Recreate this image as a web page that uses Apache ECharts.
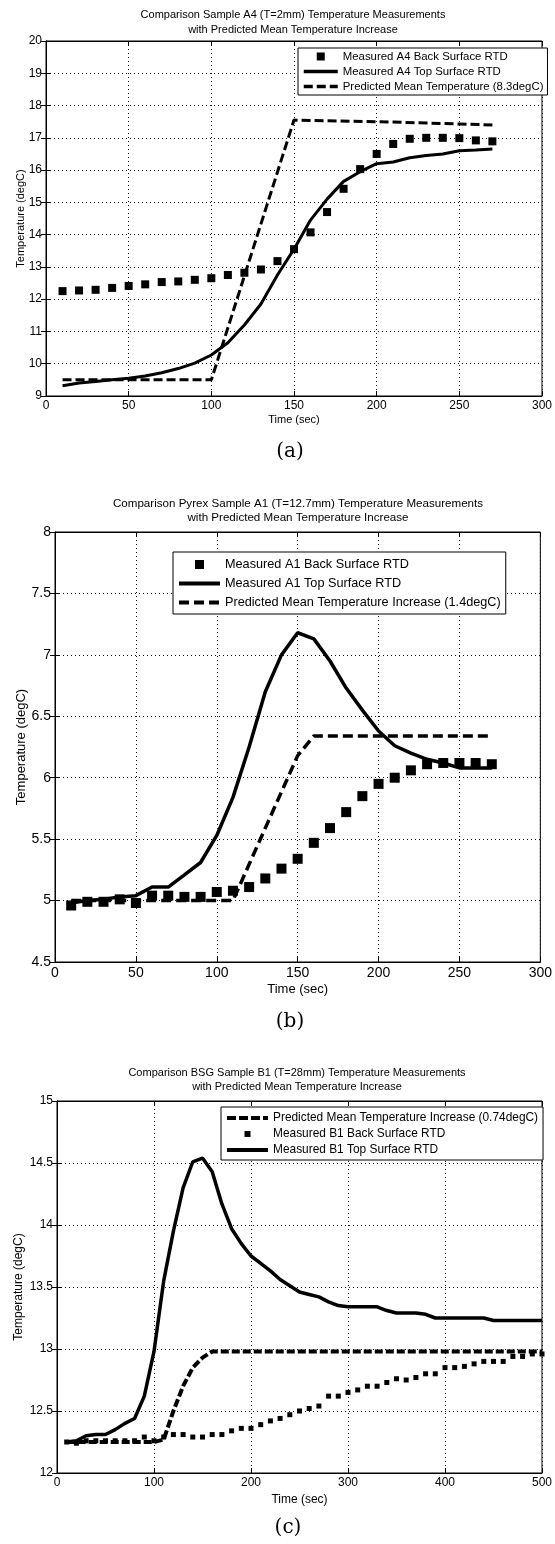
<!DOCTYPE html>
<html>
<head>
<meta charset="utf-8">
<script src="https://cdn.jsdelivr.net/npm/echarts@6/dist/echarts.min.js"></script>
<style>
html, body { margin: 0; padding: 0; background: #fff; }
#main { width: 555px; height: 1544px; }
</style>
</head>
<body>
<div id="main"></div>
<script>
// (a) Sample A4, T=2mm
var aTime = [10, 20, 30, 40, 50, 60, 70, 80, 90, 100, 110, 120, 130, 140, 150, 160, 170, 180, 190, 200, 210, 220, 230, 240, 250, 260, 270];
var aBack = [12.25, 12.27, 12.29, 12.35, 12.41, 12.46, 12.53, 12.55, 12.6, 12.65, 12.75, 12.82, 12.92, 13.18, 13.55, 14.07, 14.7, 15.42, 16.03, 16.5, 16.81, 16.97, 17.0, 17.0, 16.99, 16.92, 16.89];
var aTop = [9.32, 9.4, 9.45, 9.5, 9.55, 9.62, 9.72, 9.85, 10.02, 10.27, 10.65, 11.2, 11.85, 12.75, 13.55, 14.45, 15.1, 15.65, 15.95, 16.2, 16.25, 16.38, 16.45, 16.5, 16.6, 16.62, 16.65];
var aPredTime = [10, 100, 150, 200, 250, 270];
var aPred = [9.5, 9.5, 17.55, 17.5, 17.43, 17.4];

// (b) Pyrex Sample A1, T=12.7mm
var bTime = [10, 20, 30, 40, 50, 60, 70, 80, 90, 100, 110, 120, 130, 140, 150, 160, 170, 180, 190, 200, 210, 220, 230, 240, 250, 260, 270];
var bBack = [4.96, 4.99, 4.99, 5.01, 4.98, 5.04, 5.04, 5.03, 5.03, 5.07, 5.08, 5.11, 5.18, 5.26, 5.34, 5.47, 5.59, 5.72, 5.85, 5.95, 6.0, 6.06, 6.11, 6.12, 6.12, 6.12, 6.11];
var bTop = [4.98, 5.0, 5.01, 5.03, 5.04, 5.11, 5.11, 5.21, 5.31, 5.53, 5.84, 6.25, 6.7, 7.0, 7.18, 7.13, 6.95, 6.73, 6.55, 6.38, 6.26, 6.2, 6.15, 6.12, 6.08, 6.08, 6.08];
var bPredTime = [10, 110, 150, 160, 270];
var bPred = [5.0, 5.0, 6.18, 6.34, 6.34];

// (c) BSG Sample B1, T=28mm
var cTime = [10, 20, 30, 40, 50, 60, 70, 80, 90, 100, 110, 120, 130, 140, 150, 160, 170, 180, 190, 200,
    210, 220, 230, 240, 250, 260, 270, 280, 290, 300, 310, 320, 330, 340, 350, 360, 370, 380, 390, 400,
    410, 420, 430, 440, 450, 460, 470, 480, 490, 500];
var cTop = [12.25, 12.26, 12.3, 12.31, 12.31, 12.35, 12.4, 12.44, 12.62, 12.98, 13.55, 13.95, 14.3, 14.51, 14.54, 14.43, 14.17, 13.97, 13.85, 13.75,
    13.69, 13.63, 13.56, 13.51, 13.46, 13.44, 13.42, 13.38, 13.35, 13.34, 13.34, 13.34, 13.34, 13.31, 13.29, 13.29, 13.29, 13.28, 13.25, 13.25,
    13.25, 13.25, 13.25, 13.25, 13.23, 13.23, 13.23, 13.23, 13.23, 13.23];
var cBack = [12.25, 12.24, 12.26, 12.26, 12.26, 12.26, 12.26, 12.26, 12.29, 12.26, 12.29, 12.31, 12.31, 12.29, 12.29, 12.31, 12.31, 12.34, 12.36, 12.36,
    12.39, 12.42, 12.44, 12.47, 12.5, 12.52, 12.54, 12.62, 12.62, 12.65, 12.67, 12.7, 12.7, 12.73, 12.76, 12.75, 12.77, 12.8, 12.8, 12.85,
    12.85, 12.86, 12.88, 12.9, 12.9, 12.9, 12.94, 12.94, 12.96, 12.96];
var cPredTime = [10, 100, 110, 120, 130, 140, 150, 160, 500];
var cPred = [12.25, 12.25, 12.27, 12.5, 12.7, 12.85, 12.93, 12.98, 12.98];

var FONT = '"Liberation Sans", Arial, sans-serif';
var SQUARE = 'path://M0,0L1,0L1,1L0,1Z';

function pairs(xs, ys) {
    var out = [];
    for (var i = 0; i < xs.length; i++) {
        out.push([xs[i], ys[i]]);
    }
    return out;
}

// one panel = grid + 4 axes (bottom/left with labels, top/right only for ticks)
var panels = [
    { grid: { left: 46, right: 8, top: 41, height: 355 },
      x: [0, 300, 50], y: [9, 20, 1], font: 12, nameFont: 11, xGap: 18, yGap: 20 },
    { grid: { left: 55, right: 10, top: 532, height: 430 },
      x: [0, 300, 50], y: [4.5, 8, 0.5], font: 14, nameFont: 13, xGap: 21, yGap: 27 },
    { grid: { left: 57, right: 11, top: 1101, height: 372 },
      x: [0, 500, 100], y: [12, 15, 0.5], font: 12, nameFont: 12, xGap: 21, yGap: 32 }
];

var grids = [], xAxes = [], yAxes = [];
for (var i = 0; i < panels.length; i++) {
    var p = panels[i];
    var g = p.grid;
    g.show = true;
    g.borderColor = '#000';
    g.borderWidth = 1;
    grids.push(g);
    var dotted = { show: true, lineStyle: { color: '#111', width: 1, type: [1, 3] } };
    var tick = { show: true, inside: true, length: 5, lineStyle: { color: '#000' } };
    var line = { show: true, lineStyle: { color: '#000', width: 1 } };
    xAxes.push({
        gridIndex: i, type: 'value', position: 'bottom', min: p.x[0], max: p.x[1], interval: p.x[2],
        axisLine: line, axisTick: tick, splitLine: dotted,
        axisLabel: { color: '#000', fontFamily: FONT, fontSize: p.font, margin: 4 },
        name: 'Time (sec)', nameLocation: 'middle', nameGap: p.xGap, nameMoveOverlap: false,
        nameTextStyle: { color: '#000', fontFamily: FONT, fontSize: p.nameFont }
    });
    xAxes.push({
        gridIndex: i, type: 'value', position: 'top', min: p.x[0], max: p.x[1], interval: p.x[2],
        axisLine: line, axisTick: tick, splitLine: { show: false }, axisLabel: { show: false }
    });
    yAxes.push({
        gridIndex: i, type: 'value', position: 'left', min: p.y[0], max: p.y[1], interval: p.y[2],
        axisLine: line, axisTick: tick, splitLine: dotted,
        axisLabel: { color: '#000', fontFamily: FONT, fontSize: p.font, margin: 4 },
        name: 'Temperature (degC)', nameLocation: 'middle', nameGap: p.yGap, nameRotate: 90, nameMoveOverlap: false,
        nameTextStyle: { color: '#000', fontFamily: FONT, fontSize: p.nameFont }
    });
    yAxes.push({
        gridIndex: i, type: 'value', position: 'right', min: p.y[0], max: p.y[1], interval: p.y[2],
        axisLine: line, axisTick: tick, splitLine: { show: false }, axisLabel: { show: false }
    });
}

function squares(name, idx, data, size) {
    return { name: name, type: 'scatter', xAxisIndex: idx * 2, yAxisIndex: idx * 2,
        symbol: 'rect', symbolSize: size, itemStyle: { color: '#000', opacity: 1 }, data: data, z: 3 };
}
function curve(name, idx, data, width, dash) {
    return { name: name, type: 'line', xAxisIndex: idx * 2, yAxisIndex: idx * 2,
        symbol: 'circle', showSymbol: false, itemStyle: { color: '#000' },
        lineStyle: { color: '#000', width: width, type: dash || 'solid' }, data: data, z: 2 };
}

var series = [
    squares('Measured A4 Back Surface RTD', 0, pairs(aTime, aBack), 8),
    curve('Measured A4 Top Surface RTD', 0, pairs(aTime, aTop), 3),
    curve('Predicted Mean Temperature (8.3degC)', 0, pairs(aPredTime, aPred), 3, [9, 4]),
    squares('Measured A1 Back Surface RTD', 1, pairs(bTime, bBack), 10),
    curve('Measured A1 Top Surface RTD', 1, pairs(bTime, bTop), 3.5),
    curve('Predicted Mean Temperature Increase (1.4degC)', 1, pairs(bPredTime, bPred), 3.5, [10, 5]),
    curve('Predicted Mean Temperature Increase (0.74degC)', 2, pairs(cPredTime, cPred), 4, [8, 3]),
    squares('Measured B1 Back Surface RTD', 2, pairs(cTime, cBack), 5),
    curve('Measured B1 Top Surface RTD', 2, pairs(cTime, cTop), 3.5)
];

// legend entries: squares get a square icon, lines hide the middle marker
function sq(name) {
    return { name: name, icon: SQUARE, itemStyle: { color: '#000', opacity: 1 } };
}
function ln(name, width, dash) {
    return { name: name, itemStyle: { opacity: 0 },
        lineStyle: { color: '#000', width: width, type: dash || 'solid' } };
}

function legendBox(left, top, items, fontSize, itemWidth, itemHeight, gap, pad) {
    return {
        left: left, top: top, orient: 'vertical', data: items, selectedMode: false,
        backgroundColor: '#fff', borderColor: '#000', borderWidth: 1, padding: pad,
        itemGap: gap, itemWidth: itemWidth, itemHeight: itemHeight, z: 10,
        textStyle: { color: '#000', fontFamily: FONT, fontSize: fontSize }
    };
}

var legends = [
    legendBox(298, 48, [sq('Measured A4 Back Surface RTD'), ln('Measured A4 Top Surface RTD', 3.5),
        ln('Predicted Mean Temperature (8.3degC)', 3.5, [9, 4])],
        11.4, 34, 8, 4, [3, 4, 3, 4]),
    legendBox(173, 552, [sq('Measured A1 Back Surface RTD'), ln('Measured A1 Top Surface RTD', 4),
        ln('Predicted Mean Temperature Increase (1.4degC)', 4, [10, 5])],
        12.7, 41, 9, 6, [6, 5, 5, 4]),
    legendBox(221, 1107, [ln('Predicted Mean Temperature Increase (0.74degC)', 4, [9, 3]), sq('Measured B1 Back Surface RTD'),
        ln('Measured B1 Top Surface RTD', 4)],
        11.9, 41, 6, 4, [5, 5, 4, 4])
];

function label(text, x, y, font, lh) {
    return { type: 'text', x: x, y: y, z: 20,
        style: { text: text, align: 'center', verticalAlign: 'middle', font: font, fill: '#000', lineHeight: lh } };
}

var titleFont = '11px ' + FONT;
var capFont = '20px "DejaVu Serif", serif';
var graphics = [
    label('Comparison Sample A4 (T=2mm) Temperature Measurements\nwith Predicted Mean Temperature Increase', 293, 22, titleFont, 15),
    label('Comparison Pyrex Sample A1 (T=12.7mm) Temperature Measurements\nwith Predicted Mean Temperature Increase', 298, 511, '11.6px ' + FONT, 14),
    label('Comparison BSG Sample B1 (T=28mm) Temperature Measurements\nwith Predicted Mean Temperature Increase', 297, 1080, titleFont, 14),
    label('(a)', 290, 452, capFont, 22),
    label('(b)', 290, 1022, capFont, 22),
    label('(c)', 288, 1528, capFont, 22)
];

var chart = echarts.init(document.getElementById('main'), null, { renderer: 'canvas' });
chart.setOption({
    animation: false,
    backgroundColor: '#fff',
    grid: grids,
    xAxis: xAxes,
    yAxis: yAxes,
    legend: legends,
    graphic: graphics,
    series: series
});
</script>
</body>
</html>
